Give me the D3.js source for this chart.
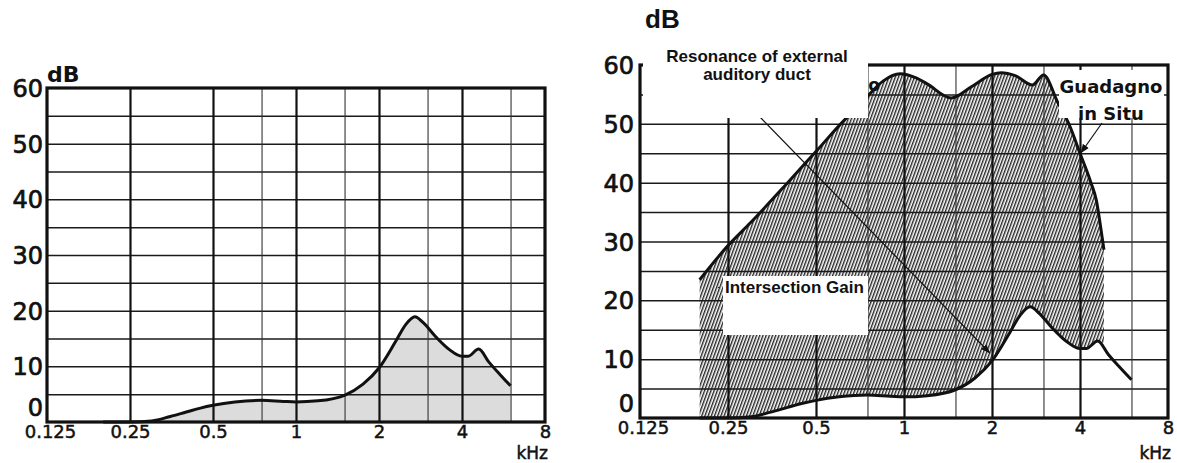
<!DOCTYPE html>
<html>
<head>
<meta charset="utf-8">
<script src="https://cdn.jsdelivr.net/npm/d3@7"></script>
<style>
body { margin: 0; background: #fff; }
svg { display: block; }
</style>
</head>
<body>
<svg width="1177" height="463"></svg>
<script>
// lower curve, same on both panels (kHz / dB)
var lowFreq = [0.2, 0.25, 0.3, 0.35, 0.4, 0.45, 0.5, 0.6, 0.75, 0.9, 1.0, 1.2, 1.5, 1.75, 2.0, 2.3, 2.5, 2.7, 2.9, 3.2, 3.6, 4.0, 4.2, 4.6, 5.0, 5.5, 6.0];
var lowDb   = [0, 0, 0.2, 1.0, 1.8, 2.5, 3.0, 3.6, 3.9, 3.7, 3.6, 3.8, 4.8, 6.8, 9.7, 14.5, 17.5, 18.9, 17.8, 15.4, 13.0, 11.8, 11.8, 13.1, 10.8, 8.5, 6.5];

// upper curve on the right panel (in situ gain)
var highFreq = [0.2, 0.25, 0.3, 0.4, 0.5, 0.63, 0.7, 0.76, 0.85, 0.97, 1.1, 1.2, 1.45, 1.7, 2.0, 2.15, 2.4, 2.75, 3.0, 3.36, 3.7, 4.0, 4.36, 4.55, 4.72, 4.83];
var highDb   = [23.5, 29.3, 33.3, 40.0, 45.3, 50.8, 53.0, 55.0, 57.3, 58.5, 57.8, 56.8, 54.4, 56.3, 58.4, 58.7, 58.2, 56.6, 58.3, 53.6, 49.5, 45.0, 40.0, 37.0, 32.0, 28.6];

var freqTicks = [0.125, 0.25, 0.5, 1, 2, 4, 8];
var freqLabels = ['0.125', '0.25', '0.5', '1', '2', '4', '8'];
var minorFreqs = [0.75, 1.5, 3, 6];
var dbTicks = [0, 10, 20, 30, 40, 50, 60];
var dbGrid = [5, 10, 15, 20, 25, 30, 35, 40, 45, 50, 55];

var svg = d3.select('svg');
var defs = svg.append('defs');

var pat = defs.append('pattern')
    .attr('id', 'hatch')
    .attr('patternUnits', 'userSpaceOnUse')
    .attr('width', 3)
    .attr('height', 12)
    .attr('patternTransform', 'rotate(20)');
pat.append('rect').attr('width', 3).attr('height', 12).attr('fill', '#fff');
pat.append('line')
    .attr('x1', 0.7).attr('y1', 0).attr('x2', 0.7).attr('y2', 12)
    .attr('stroke', '#222').attr('stroke-width', 1.4);

defs.append('marker')
    .attr('id', 'arr')
    .attr('viewBox', '0 0 10 10')
    .attr('refX', 10).attr('refY', 5)
    .attr('markerWidth', 9).attr('markerHeight', 9)
    .attr('markerUnits', 'userSpaceOnUse')
    .attr('orient', 'auto')
    .append('path').attr('d', 'M0,1L10,5L0,9z').attr('fill', '#111');

function scales(x0, x1, y0, y1) {
    return {
        x: d3.scaleLog().base(2).domain([0.125, 8]).range([x0, x1]),
        y: d3.scaleLinear().domain([0, 60]).range([y0, y1])
    };
}

function pts(f, v) {
    return f.map(function(d, i) { return [d, v[i]]; });
}

function grid(g, s) {
    var x = s.x, y = s.y;
    var h = y(0) - y(60), w = x(8) - x(0.125);

    g.append('g')
        .attr('transform', 'translate(' + x(0.125) + ',0)')
        .call(d3.axisLeft(y).tickValues(dbGrid).tickSize(-w).tickFormat(''))
        .call(function(a) { a.select('.domain').remove(); })
        .selectAll('line').attr('stroke', '#1a1a1a').attr('stroke-width', 1.5);

    g.append('g')
        .attr('transform', 'translate(0,' + y(0) + ')')
        .call(d3.axisBottom(x).tickValues(freqTicks.slice(1, 6)).tickSize(-h).tickFormat(''))
        .call(function(a) { a.select('.domain').remove(); })
        .selectAll('line').attr('stroke', '#111').attr('stroke-width', 2.2);

    g.append('g')
        .attr('transform', 'translate(0,' + y(0) + ')')
        .call(d3.axisBottom(x).tickValues(minorFreqs).tickSize(-h).tickFormat(''))
        .call(function(a) { a.select('.domain').remove(); })
        .selectAll('line').attr('stroke', '#333').attr('stroke-width', 1.1);
}

function frame(g, s, padY) {
    var x = s.x, y = s.y;
    g.append('rect')
        .attr('x', x(0.125)).attr('y', y(60))
        .attr('width', x(8) - x(0.125)).attr('height', y(0) - y(60))
        .attr('fill', 'none').attr('stroke', '#111').attr('stroke-width', 3.2);

    var ya = g.append('g')
        .attr('transform', 'translate(' + x(0.125) + ',0)')
        .call(d3.axisLeft(y).tickValues(dbTicks).tickSize(0).tickPadding(padY));
    ya.select('.domain').remove();
    ya.selectAll('text')
        .attr('font-family', 'DejaVu Sans').attr('font-size', 24).attr('fill', '#111')
        .attr('stroke', '#111').attr('stroke-width', 0.7)
        .attr('dy', function(d) { return d === 0 ? '-0.28em' : '0.36em'; });

    var xa = g.append('g')
        .attr('transform', 'translate(0,' + y(0) + ')')
        .call(d3.axisBottom(x).tickValues(freqTicks)
            .tickFormat(function(d, i) { return freqLabels[i]; })
            .tickSize(0).tickPadding(3));
    xa.select('.domain').remove();
    xa.selectAll('text')
        .attr('font-family', 'DejaVu Sans').attr('font-size', 18).attr('fill', '#111')
        .attr('stroke', '#111').attr('stroke-width', 0.5)
        .attr('dx', function(d, i) { return i === 0 ? 3 : 0; });

    g.append('text')
        .attr('x', x(8) + 3).attr('y', 459)
        .attr('text-anchor', 'end')
        .attr('font-family', 'DejaVu Sans').attr('font-size', 17).attr('fill', '#111')
        .attr('stroke', '#111').attr('stroke-width', 0.5)
        .text('kHz');
}

function curve(s) {
    return d3.line()
        .x(function(d) { return s.x(d[0]); })
        .y(function(d) { return s.y(d[1]); })
        .curve(d3.curveMonotoneX);
}

function areaUnder(s) {
    return d3.area()
        .x(function(d) { return s.x(d[0]); })
        .y0(s.y(0))
        .y1(function(d) { return s.y(d[1]); })
        .curve(d3.curveMonotoneX);
}

var low = pts(lowFreq, lowDb);
var high = pts(highFreq, highDb);

// ---- left panel
var L = scales(47, 545, 422, 88);
var gl = svg.append('g');
gl.append('path').datum(low).attr('d', areaUnder(L)).attr('fill', '#dcdcdc');
grid(gl, L);
frame(gl, L, 4);
gl.append('path').datum(low).attr('d', curve(L))
    .attr('fill', 'none').attr('stroke', '#111').attr('stroke-width', 3);
gl.append('text')
    .attr('x', 47).attr('y', 82)
    .attr('font-family', 'DejaVu Sans').attr('font-size', 22).attr('font-weight', 'bold').attr('fill', '#111')
    .text('dB');

// ---- right panel
var R = scales(640, 1168, 418, 65);
var gr = svg.append('g');
gr.append('path').datum(high).attr('d', areaUnder(R)).attr('fill', 'url(#hatch)');
gr.append('path').datum(low).attr('d', areaUnder(R)).attr('fill', '#fff');
grid(gr, R);
frame(gr, R, 6);
gr.append('path').datum(low).attr('d', curve(R))
    .attr('fill', 'none').attr('stroke', '#111').attr('stroke-width', 3);
gr.append('path').datum(high).attr('d', curve(R))
    .attr('fill', 'none').attr('stroke', '#111').attr('stroke-width', 3);

// arrow to the lower curve near 2 kHz
gr.append('line')
    .attr('x1', 760).attr('y1', 117)
    .attr('x2', R.x(1.97)).attr('y2', R.y(11))
    .attr('stroke', '#111').attr('stroke-width', 1.2)
    .attr('marker-end', 'url(#arr)');

// leftover of the original label, mostly covered
gr.append('text')
    .attr('x', 860).attr('y', 91)
    .attr('font-family', 'DejaVu Sans').attr('font-size', 17).attr('font-weight', 'bold').attr('fill', '#111')
    .text('to');

// label boxes
gr.append('rect').attr('x', 643).attr('y', 38).attr('width', 225).attr('height', 80).attr('fill', '#fff');
gr.append('text')
    .attr('x', 757).attr('y', 62)
    .attr('text-anchor', 'middle')
    .attr('font-family', 'Liberation Sans, Arial').attr('font-size', 17).attr('font-weight', 'bold').attr('fill', '#111')
    .text('Resonance of external');
gr.append('text')
    .attr('x', 757).attr('y', 80)
    .attr('text-anchor', 'middle')
    .attr('font-family', 'Liberation Sans, Arial').attr('font-size', 17).attr('font-weight', 'bold').attr('fill', '#111')
    .text('auditory duct');

gr.append('rect').attr('x', 723).attr('y', 276).attr('width', 145).attr('height', 59).attr('fill', '#fff');
gr.append('text')
    .attr('x', 725).attr('y', 293)
    .attr('font-family', 'Liberation Sans, Arial').attr('font-size', 17).attr('font-weight', 'bold').attr('fill', '#111')
    .text('Intersection Gain');

gr.append('rect').attr('x', 1059).attr('y', 70).attr('width', 105).attr('height', 48).attr('fill', '#fff');
gr.append('text')
    .attr('x', 1111).attr('y', 93)
    .attr('text-anchor', 'middle')
    .attr('font-family', 'DejaVu Sans').attr('font-size', 18).attr('font-weight', 'bold').attr('fill', '#111')
    .text('Guadagno');
gr.append('text')
    .attr('x', 1111).attr('y', 120)
    .attr('text-anchor', 'middle')
    .attr('font-family', 'DejaVu Sans').attr('font-size', 18).attr('font-weight', 'bold').attr('fill', '#111')
    .text('in Situ');
gr.append('line')
    .attr('x1', 1102).attr('y1', 123)
    .attr('x2', R.x(4.02)).attr('y2', R.y(45))
    .attr('stroke', '#111').attr('stroke-width', 1.2)
    .attr('marker-end', 'url(#arr)');

gr.append('text')
    .attr('x', 645).attr('y', 28)
    .attr('font-family', 'Liberation Sans, Arial').attr('font-size', 26).attr('font-weight', 'bold').attr('fill', '#111')
    .text('dB');
</script>
</body>
</html>
